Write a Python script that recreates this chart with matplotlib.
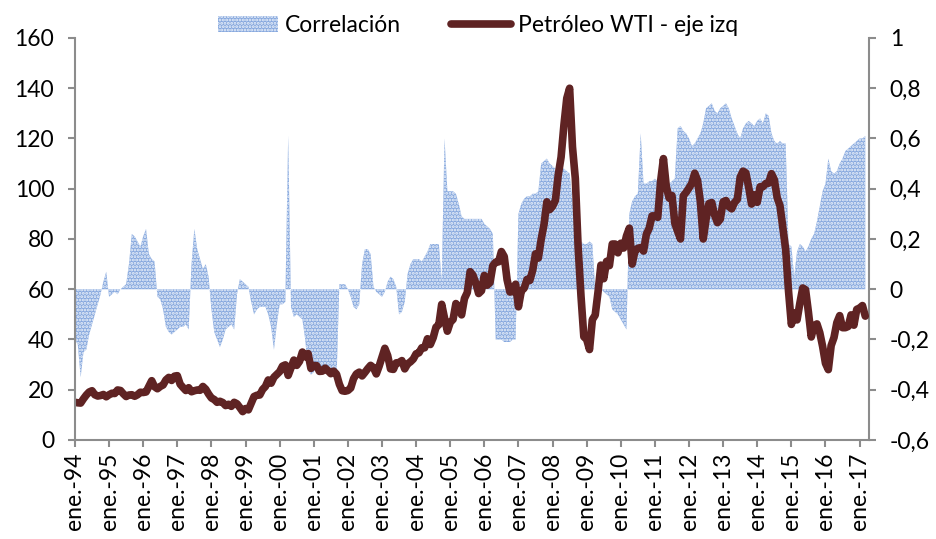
import matplotlib
matplotlib.use("Agg")
import matplotlib.pyplot as plt
import numpy as np
from matplotlib.ticker import FuncFormatter

plt.rcParams['font.family'] = ['Lato', 'DejaVu Sans']
plt.rcParams['font.size'] = 16.5
plt.rcParams['hatch.linewidth'] = 1.4

# monthly values, Jan 1994 .. Mar 2017
wti = [
    15.0, 14.8, 14.7, 16.4, 17.9, 19.1, 19.6, 18.0, 17.5, 17.7, 18.1, 17.2,   # 1994
    18.0, 18.6, 18.5, 19.9, 19.7, 18.4, 17.3, 17.9, 18.0, 17.4, 18.0, 19.0,   # 1995
    18.9, 19.1, 21.4, 23.6, 21.2, 20.4, 21.3, 21.9, 23.9, 24.9, 23.7, 25.4,   # 1996
    25.6, 22.2, 20.9, 19.7, 20.8, 19.2, 19.6, 19.9, 19.8, 21.3, 20.2, 18.3,   # 1997
    16.7, 16.1, 15.0, 15.4, 14.9, 13.7, 14.2, 13.4, 15.0, 14.4, 12.9, 11.3,   # 1998
    12.5, 12.0, 14.7, 17.3, 17.8, 17.9, 20.1, 21.3, 23.9, 22.6, 25.0, 26.1,   # 1999
    27.2, 29.4, 29.9, 25.7, 28.8, 31.8, 29.7, 31.3, 35.0, 33.1, 34.4, 28.5,   # 2000
    29.6, 29.6, 27.3, 27.4, 28.6, 27.6, 26.4, 27.4, 26.2, 22.2, 19.6, 19.4,   # 2001
    19.7, 20.7, 24.4, 26.3, 27.0, 25.5, 26.9, 28.4, 29.7, 28.8, 26.3, 29.4,   # 2002
    32.9, 36.5, 33.6, 28.3, 28.1, 30.7, 30.8, 31.6, 28.3, 30.3, 31.1, 32.2,   # 2003
    34.3, 34.7, 36.7, 36.7, 40.3, 38.0, 40.7, 44.9, 45.9, 54.0, 48.5, 43.3,   # 2004
    46.8, 48.0, 54.3, 53.0, 49.8, 56.3, 58.7, 67.0, 65.6, 62.4, 58.3, 59.4,   # 2005
    65.5, 61.6, 62.7, 69.4, 70.8, 70.9, 75.0, 73.0, 63.8, 58.9, 59.1, 62.0,   # 2006
    53.0, 59.3, 60.4, 63.9, 63.5, 67.5, 74.1, 72.4, 79.9, 85.8, 94.8, 91.7,   # 2007
    93.0, 95.4, 105.5, 112.6, 125.4, 136.0, 140.0, 116.7, 104.1, 76.6, 57.3, 41.1,  # 2008
    40.0, 36.0, 47.9, 49.7, 59.0, 69.6, 64.2, 71.1, 69.4, 78.0, 78.0, 74.5,   # 2009
    78.3, 76.4, 81.2, 84.3, 70.0, 75.3, 76.3, 76.6, 75.2, 81.9, 84.3, 89.2,   # 2010
    89.2, 88.6, 102.9, 112.0, 100.9, 96.3, 97.3, 86.3, 83.0, 80.0, 97.2, 98.6,  # 2011
    100.3, 102.2, 106.2, 103.3, 94.7, 80.0, 87.9, 94.1, 94.5, 89.5, 86.5, 87.9,  # 2012
    94.8, 95.3, 92.9, 92.0, 94.5, 95.8, 104.6, 107.0, 106.3, 100.5, 93.9, 97.6,  # 2013
    94.6, 100.8, 100.8, 102.1, 102.2, 106.0, 103.6, 96.5, 93.2, 84.4, 75.8, 59.3,  # 2014
    46.0, 50.6, 47.8, 54.5, 60.5, 59.8, 50.9, 41.0, 45.5, 46.2, 42.7, 37.2,   # 2015
    30.5, 28.0, 37.6, 40.8, 46.7, 49.5, 44.7, 44.7, 45.2, 49.8, 45.7, 52.0,   # 2016
    52.5, 53.5, 49.3,                                                         # 2017
]

corr = [
    -0.20, -0.22, -0.35, -0.25, -0.24, -0.18, -0.14, -0.10, -0.06, -0.02, 0.03, 0.07,
    -0.03, -0.02, -0.01, -0.02, 0.00, 0.01, 0.02, 0.10, 0.22, 0.21, 0.19, 0.17,
    0.21, 0.24, 0.14, 0.12, 0.11, -0.03, -0.04, -0.08, -0.15, -0.17, -0.18, -0.17,
    -0.16, -0.15, -0.15, -0.14, -0.16, 0.10, 0.24, 0.16, 0.12, 0.08, 0.10, 0.05,
    -0.08, -0.17, -0.20, -0.23, -0.20, -0.16, -0.15, -0.14, -0.16, -0.02, 0.04, 0.03,
    0.02, 0.01, -0.05, -0.10, -0.08, -0.07, -0.07, -0.07, -0.10, -0.15, -0.24, -0.14,
    -0.06, -0.06, -0.05, 0.61, -0.07, -0.11, -0.10, -0.11, -0.12, -0.20, -0.32, -0.34,
    -0.33, -0.30, -0.34, -0.32, -0.32, -0.33, -0.33, -0.32, -0.36, 0.02, 0.02, 0.02,
    0.00, -0.03, -0.07, -0.08, -0.06, 0.10, 0.16, 0.16, 0.14, 0.01, -0.01, -0.02,
    -0.03, -0.01, 0.03, 0.05, 0.04, 0.01, -0.10, -0.09, -0.05, 0.06, 0.10, 0.12,
    0.12, 0.12, 0.11, 0.13, 0.15, 0.18, 0.18, 0.18, 0.18, 0.03, 0.60, 0.39,
    0.39, 0.39, 0.38, 0.34, 0.29, 0.28, 0.28, 0.28, 0.28, 0.28, 0.28, 0.28,
    0.26, 0.25, 0.24, 0.22, -0.20, -0.20, -0.20, -0.21, -0.21, -0.21, -0.20, -0.20,
    0.30, 0.34, 0.36, 0.37, 0.37, 0.38, 0.38, 0.39, 0.50, 0.51, 0.52, 0.50,
    0.49, 0.48, 0.48, 0.48, 0.48, 0.47, 0.46, 0.35, 0.28, 0.22, 0.19, 0.18,
    0.18, 0.19, 0.18, 0.00, -0.01, 0.00, -0.01, -0.02, -0.03, -0.08, -0.09, -0.10,
    -0.12, -0.14, -0.16, 0.30, 0.35, 0.37, 0.38, 0.62, 0.42, 0.42, 0.43, 0.43,
    0.44, 0.43, 0.42, 0.42, 0.41, 0.42, 0.43, 0.44, 0.64, 0.65, 0.63, 0.62,
    0.60, 0.57, 0.58, 0.60, 0.62, 0.66, 0.72, 0.73, 0.74, 0.71, 0.70, 0.72,
    0.73, 0.74, 0.72, 0.68, 0.65, 0.62, 0.60, 0.64, 0.66, 0.67, 0.66, 0.65,
    0.67, 0.68, 0.66, 0.70, 0.69, 0.62, 0.59, 0.58, 0.59, 0.58, 0.58, 0.18,
    0.17, 0.05, 0.15, 0.18, 0.17, 0.15, 0.17, 0.20, 0.22, 0.27, 0.33, 0.39,
    0.42, 0.52, 0.47, 0.46, 0.47, 0.50, 0.52, 0.55, 0.56, 0.57, 0.58, 0.59,
    0.60, 0.60, 0.61,
]

years = list(range(1994, 2018))
tick_labels = [f"ene.-{y % 100:02d}" for y in years]

months = np.arange(len(wti))
axis_grey = '#8c8c8c'

fig = plt.figure(figsize=(9.37, 5.39), dpi=100)
ax = fig.add_axes([0.080, 0.1837, 0.8474, 0.7458])
ax2 = ax.twinx()

# correlation area on the right axis
ax2.fill_between(months, 0, corr, facecolor='#86a8de', edgecolor='#eef3fb',
                 hatch='.....', linewidth=0, label='Correlación')
ax2.set_ylim(-0.6, 1)
ax2.set_yticks(np.arange(-0.6, 1.01, 0.2))
ax2.yaxis.set_major_formatter(FuncFormatter(
    lambda v, p: f"{v:.1f}".replace('.', ',').replace(',0', '') if abs(v) > 1e-9 else "0"))

# oil price on the left axis, drawn on top
ax.plot(months, wti, color='#5f2323', lw=5.5, solid_capstyle='round',
        solid_joinstyle='round', label='Petróleo WTI - eje izq')
ax.set_zorder(ax2.get_zorder() + 1)
ax.patch.set_visible(False)
ax.set_ylim(0, 160)
ax.set_yticks(range(0, 161, 20))
ax.set_xlim(0, 279.3)
ax.set_xticks([12 * i for i in range(len(years))])
ax.set_xticklabels(tick_labels, rotation=90)

for a in (ax, ax2):
    for s in a.spines.values():
        s.set_visible(False)
    a.tick_params(colors=axis_grey, labelcolor='black', width=1.5, length=5, pad=4)
ax.spines['left'].set_visible(True)
ax.spines['bottom'].set_visible(True)
ax2.spines['right'].set_visible(True)
for s in (ax.spines['left'], ax.spines['bottom'], ax2.spines['right']):
    s.set_color(axis_grey)
    s.set_linewidth(1.5)
ax.tick_params(axis='y', pad=10)
ax2.tick_params(axis='y', pad=10)

h1, l1 = ax2.get_legend_handles_labels()
h2, l2 = ax.get_legend_handles_labels()
fig.legend(h1 + h2, l1 + l2, loc='upper center', bbox_to_anchor=(0.51, 1.01),
           ncol=2, frameon=False, handlelength=2.6, handletextpad=0.3,
           columnspacing=2.2)

fig.savefig("out.png", dpi=100)
